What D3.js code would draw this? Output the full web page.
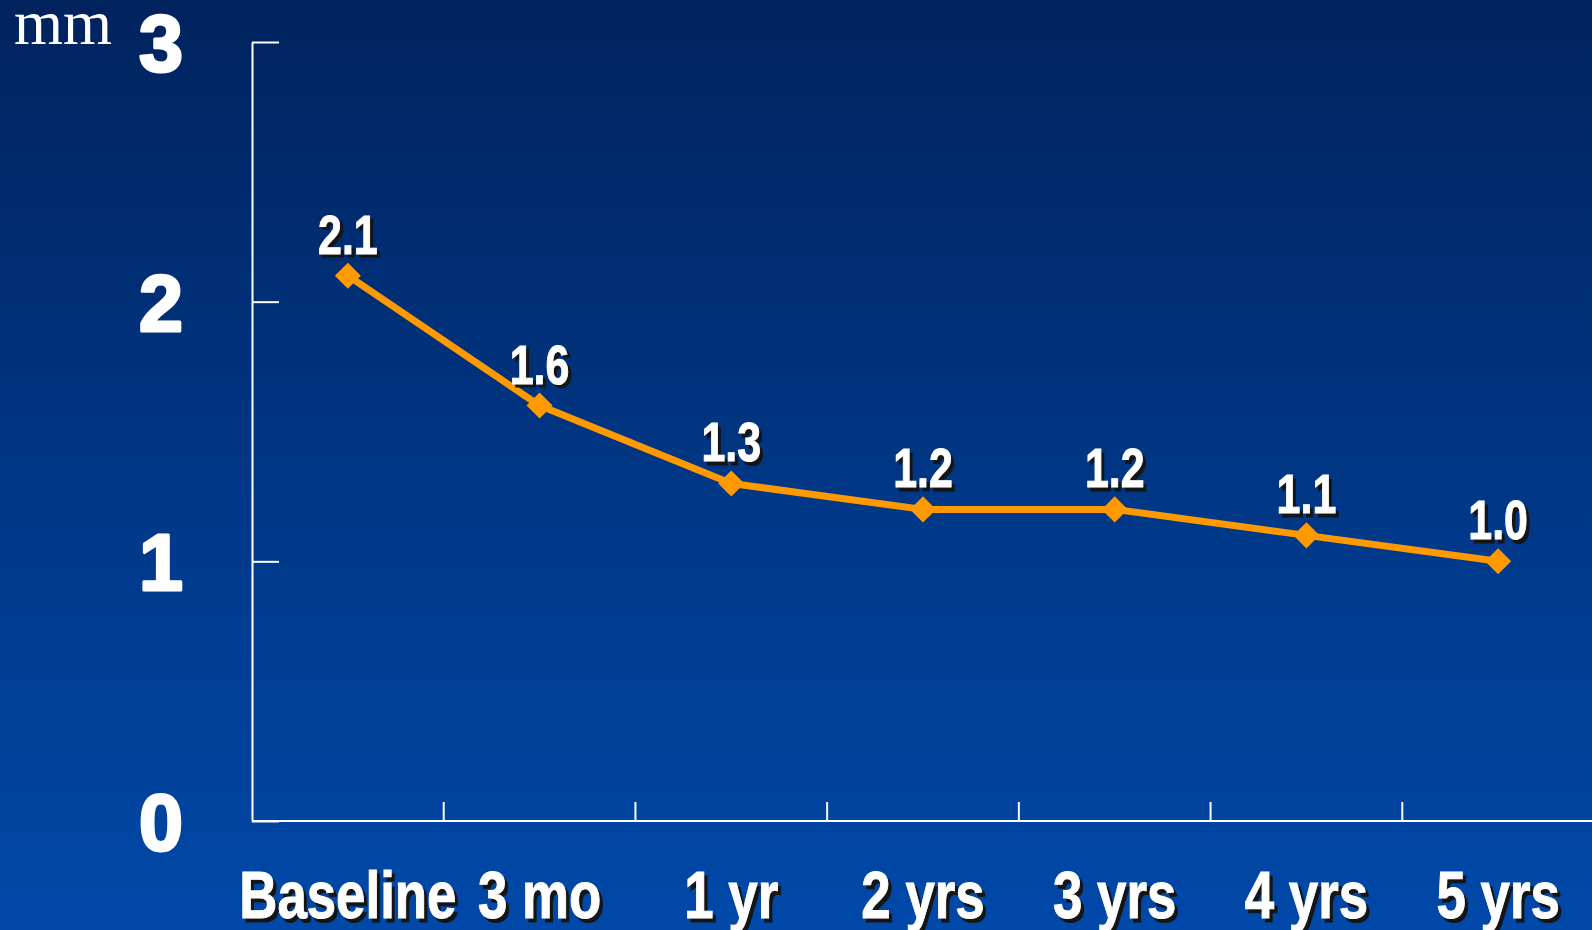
<!DOCTYPE html>
<html>
<head>
<meta charset="utf-8">
<script src="https://cdn.jsdelivr.net/npm/d3@7"></script>
<style>
  html, body { margin: 0; padding: 0; overflow: hidden; }
  svg { display: block; }
</style>
</head>
<body>
<script>
// chart data
const categories = ['Baseline', '3 mo', '1 yr', '2 yrs', '3 yrs', '4 yrs', '5 yrs'];
const values = [2.1, 1.6, 1.3, 1.2, 1.2, 1.1, 1.0];
const valueLabels = ['2.1', '1.6', '1.3', '1.2', '1.2', '1.1', '1.0'];
const yTicks = [0, 1, 2, 3];
const unitLabel = 'mm';

const width = 1592, height = 930;

const svg = d3.select('body').append('svg')
  .attr('width', width)
  .attr('height', height);

const defs = svg.append('defs');
const grad = defs.append('linearGradient')
  .attr('id', 'bg')
  .attr('x1', 0).attr('y1', 0).attr('x2', 0).attr('y2', 1);
grad.append('stop').attr('offset', '0%').attr('stop-color', '#00235e');
grad.append('stop').attr('offset', '100%').attr('stop-color', '#0049a9');

svg.append('rect')
  .attr('width', width)
  .attr('height', height)
  .attr('fill', 'url(#bg)');

const x = d3.scaleBand()
  .domain(categories)
  .range([252, 1594])
  .padding(0);

const y = d3.scaleLinear()
  .domain([0, 3])
  .range([821, 42]);

// y axis: ticks point inward, big labels well to the left
const yAxis = d3.axisLeft(y)
  .tickValues(yTicks)
  .tickFormat(d3.format('d'))
  .tickSizeInner(-27)
  .tickSizeOuter(0)
  .tickPadding(69);

const gy = svg.append('g')
  .attr('transform', `translate(${x.range()[0]},0)`)
  .call(yAxis);

gy.select('.domain').attr('stroke', '#fff').attr('stroke-width', 2);
gy.selectAll('.tick line').attr('stroke', '#fff').attr('stroke-width', 2);
gy.selectAll('.tick text')
  .attr('fill', '#fff')
  .attr('stroke', '#fff')
  .attr('stroke-width', 3)
  .attr('stroke-linejoin', 'round')
  .attr('font-family', 'Liberation Sans, Arial, sans-serif')
  .attr('font-weight', 'bold')
  .attr('font-size', 79)
  .attr('dy', '0.36em');

// x axis line and ticks between categories
svg.append('line')
  .attr('x1', x.range()[0]).attr('x2', width)
  .attr('y1', y(0)).attr('y2', y(0))
  .attr('stroke', '#fff')
  .attr('stroke-width', 2);

svg.append('g')
  .selectAll('line')
  .data(categories.slice(1))
  .join('line')
  .attr('x1', d => x(d)).attr('x2', d => x(d))
  .attr('y1', y(0)).attr('y2', y(0) - 19)
  .attr('stroke', '#fff')
  .attr('stroke-width', 2);

// unit label
svg.append('text')
  .attr('x', 14)
  .attr('y', 44)
  .attr('fill', '#fff')
  .attr('font-family', 'Liberation Serif, Times New Roman, serif')
  .attr('font-size', 63)
  .text(unitLabel);

// condensed, shadowed text helper
function shadowText(g, txt, size) {
  g.append('text')
    .attr('x', 4).attr('y', 3.5)
    .attr('text-anchor', 'middle')
    .attr('fill', '#151515')
    .attr('stroke', '#151515')
    .attr('stroke-width', 1)
    .attr('font-family', 'Liberation Sans, Arial, sans-serif')
    .attr('font-weight', 'bold')
    .attr('font-size', size)
    .text(txt);
  g.append('text')
    .attr('text-anchor', 'middle')
    .attr('fill', '#fff')
    .attr('stroke', '#fff')
    .attr('stroke-width', 1)
    .attr('font-family', 'Liberation Sans, Arial, sans-serif')
    .attr('font-weight', 'bold')
    .attr('font-size', size)
    .text(txt);
}

// category labels
svg.append('g')
  .selectAll('g')
  .data(categories)
  .join('g')
  .attr('transform', d => `translate(${x(d) + x.bandwidth() / 2},918) scale(0.8,1)`)
  .each(function (d) { shadowText(d3.select(this), d, 66); });

// line
const cx = d => x(d) + x.bandwidth() / 2;
const line = d3.line()
  .x((d, i) => cx(categories[i]))
  .y(d => y(d));

svg.append('path')
  .datum(values)
  .attr('d', line)
  .attr('fill', 'none')
  .attr('stroke', '#ff9900')
  .attr('stroke-width', 7)
  .attr('stroke-linejoin', 'round');

// diamond markers
const marker = d3.symbol().type(d3.symbolSquare).size(340);
svg.append('g')
  .selectAll('path')
  .data(values)
  .join('path')
  .attr('d', marker)
  .attr('transform', (d, i) => `translate(${cx(categories[i])},${y(d)}) rotate(45)`)
  .attr('fill', '#ff9900');

// value labels
svg.append('g')
  .selectAll('g')
  .data(values)
  .join('g')
  .attr('transform', (d, i) => `translate(${cx(categories[i])},${y(d) - 22}) scale(0.78,1)`)
  .each(function (d, i) { shadowText(d3.select(this), valueLabels[i], 55); });
</script>
</body>
</html>
